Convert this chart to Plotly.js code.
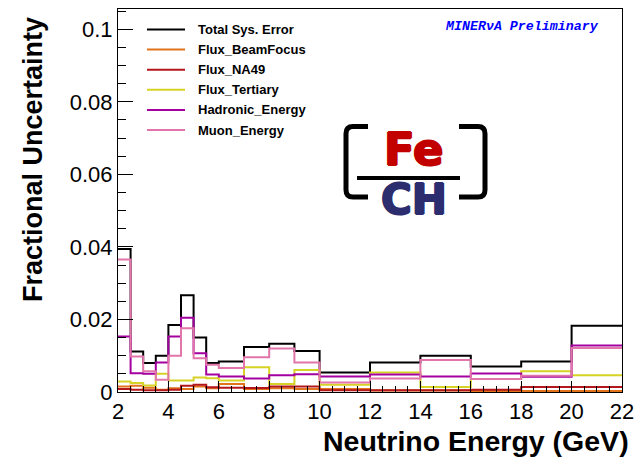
<!DOCTYPE html>
<html>
<head>
<meta charset="utf-8">
<script src="https://cdn.plot.ly/plotly-3.0.1.min.js"></script>
<style>html,body{margin:0;padding:0;background:#fff;}#chart{width:642px;height:460px;}</style>
</head>
<body>
<div id="chart"></div>
<script>
// ---- data ----
const binEdges = [2, 2.5, 3, 3.5, 4, 4.5, 5, 5.5, 6, 7, 8, 9, 10, 12, 14, 16, 18, 20, 22];
const seriesNames = ['Total Sys. Error', 'Flux_BeamFocus', 'Flux_NA49', 'Flux_Tertiary', 'Hadronic_Energy', 'Muon_Energy'];
const totalSysError  = [0.0394, 0.0112, 0.0080, 0.0100, 0.0185, 0.0267, 0.0150, 0.0080, 0.0084, 0.0124, 0.0133, 0.0113, 0.0054, 0.0081, 0.0100, 0.0070, 0.0084, 0.0183];
const fluxBeamFocus  = [0.0015, 0.0017, 0.0012, 0.0006, 0.0010, 0.0008, 0.0015, 0.0010, 0.0022, 0.0008, 0.0010, 0.0008, 0.0008, 0.0004, 0.0004, 0.0003, 0.0003, 0.0003];
const fluxNA49       = [0.0008, 0.0006, 0.0005, 0.0005, 0.0006, 0.0017, 0.0020, 0.0013, 0.0012, 0.0011, 0.0015, 0.0015, 0.0005, 0.0005, 0.0005, 0.0006, 0.0014, 0.0014];
const fluxTertiary   = [0.0029, 0.0025, 0.0018, 0.0050, 0.0032, 0.0032, 0.0040, 0.0038, 0.0032, 0.0068, 0.0022, 0.0061, 0.0020, 0.0054, 0.0014, 0.0036, 0.0057, 0.0046];
const hadronicEnergy = [0.0153, 0.0052, 0.0050, 0.0081, 0.0153, 0.0205, 0.0107, 0.0048, 0.0043, 0.0037, 0.0046, 0.0049, 0.0043, 0.0048, 0.0043, 0.0051, 0.0042, 0.0128];
const muonEnergy     = [0.0365, 0.0098, 0.0057, 0.0034, 0.0100, 0.0176, 0.0093, 0.0075, 0.0066, 0.0096, 0.0120, 0.0081, 0.0026, 0.0037, 0.0088, 0.0036, 0.0045, 0.0121];
const xTickVals = [2, 4, 6, 8, 10, 12, 14, 16, 18, 20, 22];
const yTickVals = [0, 0.02, 0.04, 0.06, 0.08, 0.1];

// ---- style ----
const allSeries = [totalSysError, fluxBeamFocus, fluxNA49, fluxTertiary, hadronicEnergy, muonEnergy];
const colors = ['#000000', '#e0731c', '#b3161b', '#d6d226', '#a3009f', '#e276aa'];

// plot-area geometry in pixels
const W = 642, H = 460;
const M = {l: 118, r: 20, t: 9, b: 68};
const PW = W - M.l - M.r, PH = H - M.t - M.b;
const px = x => (x - M.l) / PW;
const py = y => (H - M.b - y) / PH;

const traces = allSeries.map((vals, i) => ({
  type: 'scatter', mode: 'lines',
  x: binEdges,
  y: vals.concat([vals[vals.length - 1]]),
  line: {shape: 'hv', color: colors[i], width: 2},
  name: seriesNames[i],
  showlegend: false,
  hoverinfo: 'skip'
}));

const shapes = [];
const annotations = [];
const SANS = 'Liberation Sans, Arial, sans-serif';
const heavy = c => `1px 0 0 ${c}, -1px 0 0 ${c}, 0 1px 0 ${c}, 0 -1px 0 ${c}`;

// manual legend
const legY0 = 29.5, legDY = 20.1;
seriesNames.forEach((nm, i) => {
  const y = legY0 + i * legDY;
  shapes.push({type: 'line', xref: 'paper', yref: 'paper', x0: px(147), x1: px(185), y0: py(y), y1: py(y),
    line: {color: colors[i], width: 2}});
  annotations.push({xref: 'paper', yref: 'paper', x: px(196), y: py(y), xanchor: 'left', yanchor: 'middle',
    text: '<b>' + nm + '</b>', showarrow: false, font: {family: SANS, size: 13, color: '#000'}});
});

// MINERvA preliminary label
annotations.push({xref: 'paper', yref: 'paper', x: px(601), y: py(26), xanchor: 'right', yanchor: 'middle',
  text: '<b><i>MINERνA Preliminary</i></b>', showarrow: false,
  font: {family: 'Liberation Mono, Courier New, monospace', size: 13.3, color: '#0000ff'}});

// Fe/CH logo
const bracket = (xs, xe, yt, yb) => {
  const r = 7;
  const dir = xe > xs ? 1 : -1;
  return `M ${px(xe)} ${py(yt)} L ${px(xs + dir * r)} ${py(yt)} Q ${px(xs)} ${py(yt)} ${px(xs)} ${py(yt + r)} ` +
         `L ${px(xs)} ${py(yb - r)} Q ${px(xs)} ${py(yb)} ${px(xs + dir * r)} ${py(yb)} L ${px(xe)} ${py(yb)}`;
};
shapes.push({type: 'path', xref: 'paper', yref: 'paper', path: bracket(346, 368, 126.5, 197), line: {color: '#000', width: 5}});
shapes.push({type: 'path', xref: 'paper', yref: 'paper', path: bracket(485, 459, 126.5, 197), line: {color: '#000', width: 5}});
shapes.push({type: 'line', xref: 'paper', yref: 'paper', x0: px(357), x1: px(460), y0: py(178), y1: py(178), line: {color: '#000', width: 4}});
annotations.push({xref: 'paper', yref: 'paper', x: px(413), y: py(150), xanchor: 'center', yanchor: 'middle',
  text: '<b>Fe</b>', showarrow: false, font: {family: 'DejaVu Sans, sans-serif', size: 45, color: '#c20000', shadow: heavy('#c20000')}});
annotations.push({xref: 'paper', yref: 'paper', x: px(414), y: py(199), xanchor: 'center', yanchor: 'middle',
  text: '<b>CH</b>', showarrow: false, font: {family: 'DejaVu Sans, sans-serif', size: 42, color: '#2b2d6e', shadow: heavy('#2b2d6e')}});

// axis titles (ROOT style, right/top aligned)
annotations.push({xref: 'paper', yref: 'paper', x: px(631), y: py(441), xanchor: 'right', yanchor: 'middle',
  text: '<b>Neutrino Energy (GeV)</b>', showarrow: false,
  font: {family: SANS, size: 28.5, color: '#000'}});
annotations.push({xref: 'paper', yref: 'paper', x: px(33), y: py(160), xanchor: 'center', yanchor: 'middle', textangle: -90,
  text: '<b>Fractional Uncertainty</b>', showarrow: false,
  font: {family: SANS, size: 27, color: '#000'}});

const yMax = 0.1 * PH / (H - M.b - 29.3);

const layout = {
  width: W, height: H,
  margin: M,
  paper_bgcolor: '#fff', plot_bgcolor: '#fff',
  showlegend: false,
  font: {family: SANS, color: '#000'},
  xaxis: {
    range: [binEdges[0], binEdges[binEdges.length - 1]],
    tickmode: 'array', tickvals: xTickVals, ticktext: xTickVals.map(String),
    ticks: 'inside', ticklen: 11, tickwidth: 1, tickcolor: '#000',
    minor: {ticks: 'inside', dtick: 0.5, tick0: 2, ticklen: 6, tickcolor: '#000', showgrid: false},
    showgrid: false, zeroline: false,
    showline: true, mirror: true, linecolor: '#000', linewidth: 1,
    tickfont: {size: 22, color: '#000'}
  },
  yaxis: {
    range: [0, yMax],
    tickmode: 'array', tickvals: yTickVals, ticktext: yTickVals.map(String),
    ticks: 'inside', ticklen: 15, tickwidth: 1, tickcolor: '#000',
    minor: {ticks: 'inside', dtick: 0.005, tick0: 0, ticklen: 7.5, tickcolor: '#000', showgrid: false},
    showgrid: false, zeroline: false,
    showline: true, mirror: true, linecolor: '#000', linewidth: 1,
    tickfont: {size: 22, color: '#000'}
  },
  shapes: shapes,
  annotations: annotations
};

Plotly.newPlot('chart', traces, layout, {displayModeBar: false, staticPlot: true});
</script>
</body>
</html>
